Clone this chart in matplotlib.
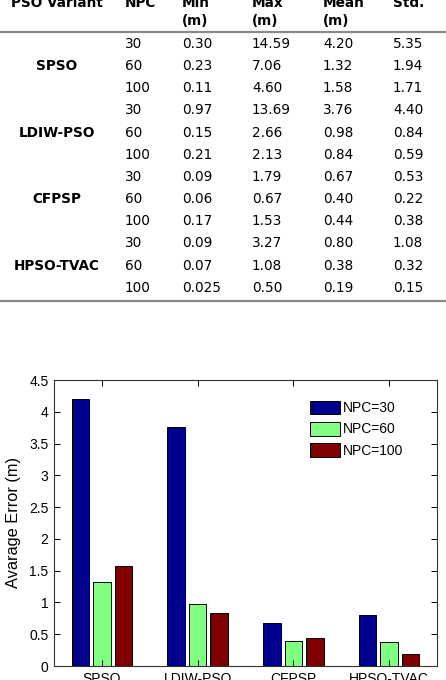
import numpy as np
import matplotlib
matplotlib.use('Agg')
import matplotlib.pyplot as plt

# table data (kept as text so the printed format stays as in the paper)
variants = ['SPSO', 'LDIW-PSO', 'CFPSP', 'HPSO-TVAC']
npc = [30, 60, 100]
min_m = ['0.30', '0.23', '0.11', '0.97', '0.15', '0.21',
         '0.09', '0.06', '0.17', '0.09', '0.07', '0.025']
max_m = ['14.59', '7.06', '4.60', '13.69', '2.66', '2.13',
         '1.79', '0.67', '1.53', '3.27', '1.08', '0.50']
mean_m = ['4.20', '1.32', '1.58', '3.76', '0.98', '0.84',
          '0.67', '0.40', '0.44', '0.80', '0.38', '0.19']
std_m = ['5.35', '1.94', '1.71', '4.40', '0.84', '0.59',
         '0.53', '0.22', '0.38', '1.08', '0.32', '0.15']
headers = [('PSO Variant', ''), ('NPC', ''), ('Min', '(m)'),
           ('Max', '(m)'), ('Mean', '(m)'), ('Std.', '')]

legend_labels = ['NPC=%d' % n for n in npc]
bar_colors = ['#00008f', '#80ff80', '#800000']

W, H = 446, 680
fig = plt.figure(figsize=(W / 100, H / 100), dpi=100)

# ---- table part, drawn in pixel coords of the figure
tab = fig.add_axes([0, 0, 1, 1])
tab.set_xlim(0, W)
tab.set_ylim(H, 0)
tab.axis('off')

tfont = 'DejaVu Sans'
tsize = 9.8
col_x = [57, 125, 182, 252, 323, 393]
for i, (h1, h2) in enumerate(headers):
    ha = 'center' if i == 0 else 'left'
    tab.text(col_x[i], 7, h1, ha=ha, va='baseline', family=tfont,
             fontsize=tsize, fontweight='bold', clip_on=False)
    if h2:
        tab.text(col_x[i], 25, h2, ha=ha, va='baseline', family=tfont,
                 fontsize=tsize, fontweight='bold')

tab.axhline(32, color='#8a8a8a', lw=1.6)
tab.axhline(300.5, color='#8a8a8a', lw=1.6)

row0, dy = 48, 22.15
cols = [min_m, max_m, mean_m, std_m]
for r in range(len(variants) * len(npc)):
    y = row0 + r * dy
    tab.text(col_x[1], y, str(npc[r % 3]), va='baseline', family=tfont, fontsize=tsize)
    for c, vals in enumerate(cols):
        tab.text(col_x[c + 2], y, vals[r], va='baseline', family=tfont, fontsize=tsize)
for g, name in enumerate(variants):
    y = row0 + (g * 3 + 1) * dy
    tab.text(col_x[0], y, name, ha='center', va='baseline', family=tfont,
             fontsize=tsize, fontweight='bold')

# ---- bar chart
ax = fig.add_axes([54 / W, (H - 666) / H, (437 - 54) / W, (666 - 380) / H])
means = np.array([float(v) for v in mean_m]).reshape(len(variants), len(npc))
x = np.arange(1, len(variants) + 1)
width = 0.183
offs = [-0.225, 0, 0.225]
for k in range(len(npc)):
    ax.bar(x + offs[k], means[:, k], width, color=bar_colors[k],
           edgecolor='black', linewidth=0.7, label=legend_labels[k])

ax.set_xlim(0.5, 4.5)
ax.set_ylim(0, 4.5)
ax.set_yticks(np.arange(0, 4.6, 0.5))
ax.set_yticklabels(['0', '0.5', '1', '1.5', '2', '2.5', '3', '3.5', '4', '4.5'])
ax.set_xticks(x)
ax.set_xticklabels(variants)
ax.tick_params(direction='in', top=True, right=True, length=4, width=0.7,
               labelsize=10, pad=4)
for lab in ax.get_xticklabels() + ax.get_yticklabels():
    lab.set_family('Liberation Sans')
for s in ax.spines.values():
    s.set_linewidth(0.8)
    s.set_color('#333333')
ax.set_ylabel('Avarage Error (m)', family='Liberation Sans', fontsize=11.8, labelpad=6)

ax.legend(loc='upper left', bbox_to_anchor=(310 / W, 1 - 400.7 / H),
          bbox_transform=fig.transFigure, frameon=False, borderpad=0,
          borderaxespad=0, handlelength=2.16, handleheight=1.15,
          labelspacing=0.47, handletextpad=0.2,
          prop={'family': 'Liberation Sans', 'size': 10})

fig.savefig('out.png', dpi=100)
